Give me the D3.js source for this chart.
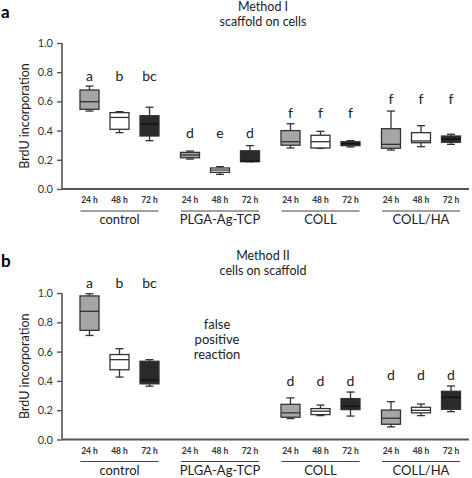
<!DOCTYPE html>
<html><head><meta charset="utf-8">
<script src="https://cdn.jsdelivr.net/npm/d3@7"></script>
<style>body{margin:0;background:#fff}svg{display:block}text{font-family:Lato,"Open Sans",sans-serif}</style>
</head><body><svg id="c" width="472" height="478"></svg>
<script>
const groups = ["control", "PLGA-Ag-TCP", "COLL", "COLL/HA"];
const times = ["24 h", "48 h", "72 h"];
const fills = ["#a6a6a6", "#ffffff", "#2a2a2a"];
const yTicks = [0, 0.2, 0.4, 0.6, 0.8, 1.0];

// Panel a: Method I
const lowA  = [0.534, 0.386, 0.331, 0.205, 0.100, 0.187, 0.281, 0.278, 0.288, 0.267, 0.290, 0.306];
const q1A   = [0.546, 0.409, 0.363, 0.214, 0.114, 0.187, 0.300, 0.281, 0.297, 0.279, 0.317, 0.320];
const medA  = [0.598, 0.490, 0.445, 0.233, 0.130, 0.190, 0.324, 0.324, 0.310, 0.306, 0.329, 0.342];
const q3A   = [0.678, 0.523, 0.502, 0.251, 0.144, 0.262, 0.400, 0.368, 0.324, 0.413, 0.386, 0.363];
const highA = [0.705, 0.530, 0.560, 0.260, 0.153, 0.297, 0.447, 0.395, 0.331, 0.534, 0.434, 0.375];
const lettersA = ["a", "b", "bc", "d", "e", "d", "f", "f", "f", "f", "f", "f"];
const letterYA = [0.774, 0.774, 0.774, 0.381, 0.381, 0.381, 0.518, 0.518, 0.518, 0.616, 0.616, 0.616];

// Panel b: Method II
const lowB  = [0.710, 0.426, 0.364, null, null, null, 0.143, 0.163, 0.160, 0.086, 0.163, 0.190];
const q1B   = [0.745, 0.476, 0.380, null, null, null, 0.152, 0.170, 0.204, 0.104, 0.182, 0.206];
const medB  = [0.875, 0.545, 0.405, null, null, null, 0.182, 0.193, 0.227, 0.145, 0.199, 0.288];
const q3B   = [0.980, 0.580, 0.534, null, null, null, 0.240, 0.211, 0.279, 0.201, 0.220, 0.329];
const highB = [0.995, 0.620, 0.545, null, null, null, 0.284, 0.235, 0.324, 0.258, 0.242, 0.365];
const lettersB = ["a", "b", "bc", "", "", "", "d", "d", "d", "d", "d", "d"];
const letterYB = [1.068, 1.068, 1.068, null, null, null, 0.397, 0.397, 0.397, 0.437, 0.437, 0.437];

const svg = d3.select("#c");
const slot = (g, t) => g * 3.35 + t;
const x = d3.scaleLinear().domain([0, 1]).range([89.5, 119.5]);
const boxW = 19, capW = 8;

function panel(cfg) {
  const y = d3.scaleLinear().domain([0, 1]).range([cfg.y0, cfg.y1]);
  const g = svg.append("g");
  g.append("text").attr("x", 1).attr("y", cfg.titleY + 7).attr("font-size", 17).attr("font-weight", "bold")
    .attr("font-family", "Liberation Sans, Arial, sans-serif").text(cfg.label);
  g.append("text").attr("x", 263).attr("y", cfg.titleY).attr("text-anchor", "middle").attr("font-size", 12.5).attr("fill", "#222").text(cfg.t1);
  g.append("text").attr("x", 263).attr("y", cfg.titleY + 15).attr("text-anchor", "middle").attr("font-size", 12.5).attr("fill", "#222").text(cfg.t2);

  const ax = g.append("g").attr("transform", "translate(62,0)")
    .call(d3.axisLeft(y).tickValues(yTicks).tickFormat(d3.format(".1f")).tickSize(5).tickPadding(4));
  ax.select(".domain").attr("stroke", "#555").attr("stroke-width", 1.6).attr("d", `M0,${cfg.y1}V${cfg.y0}`);
  ax.selectAll(".tick line").attr("stroke", "#555").attr("stroke-width", 1.4);
  ax.selectAll(".tick text").attr("font-size", 11).attr("fill", "#333").attr("font-family", "Lato, sans-serif");
  g.append("line").attr("x1", 62).attr("x2", 469).attr("y1", y(0)).attr("y2", y(0)).attr("stroke", "#555").attr("stroke-width", 1.8);
  g.append("text").attr("transform", `translate(29,${(cfg.y0 + cfg.y1) / 2}) rotate(-90)`).attr("text-anchor", "middle")
    .attr("font-size", 12.5).attr("fill", "#222").text("BrdU incorporation");

  const idx = d3.range(12);
  idx.forEach(i => {
    if (cfg.low[i] == null) return;
    const gi = Math.floor(i / 3), ti = i % 3;
    const cx = x(slot(gi, ti));
    const b = g.append("g").attr("stroke", "#333").attr("stroke-width", 1.3);
    b.append("line").attr("x1", cx).attr("x2", cx).attr("y1", y(cfg.high[i])).attr("y2", y(cfg.low[i]));
    b.append("line").attr("x1", cx - capW / 2).attr("x2", cx + capW / 2).attr("y1", y(cfg.high[i])).attr("y2", y(cfg.high[i]));
    b.append("line").attr("x1", cx - capW / 2).attr("x2", cx + capW / 2).attr("y1", y(cfg.low[i])).attr("y2", y(cfg.low[i]));
    b.append("rect").attr("x", cx - boxW / 2).attr("width", boxW).attr("y", y(cfg.q3[i]))
      .attr("height", Math.max(1, y(cfg.q1[i]) - y(cfg.q3[i]))).attr("fill", fills[ti]);
    b.append("line").attr("x1", cx - boxW / 2).attr("x2", cx + boxW / 2).attr("y1", y(cfg.med[i])).attr("y2", y(cfg.med[i]))
      .attr("stroke", ti === 2 ? "#111" : "#333");
  });
  idx.forEach(i => {
    if (!cfg.letters[i]) return;
    const gi = Math.floor(i / 3), ti = i % 3;
    g.append("text").attr("x", x(slot(gi, ti))).attr("y", y(cfg.letterY[i]) + 5).attr("text-anchor", "middle")
      .attr("font-size", 14).attr("fill", "#222").text(cfg.letters[i]);
  });
  groups.forEach((gname, gi) => {
    times.forEach((t, ti) => {
      g.append("text").attr("x", x(slot(gi, ti))).attr("y", cfg.y0 + 14).attr("text-anchor", "middle")
        .attr("font-size", 8.5).attr("font-weight", "bold").attr("fill", "#333").text(t);
    });
    const gc = x(slot(gi, 1));
    g.append("line").attr("x1", gc - 39).attr("x2", gc + 39).attr("y1", cfg.y0 + 22).attr("y2", cfg.y0 + 22)
      .attr("stroke", "#444").attr("stroke-width", 1.2);
    g.append("text").attr("x", gc).attr("y", cfg.y0 + 35).attr("text-anchor", "middle")
      .attr("font-size", 13).attr("fill", "#222").text(gname);
  });
  return y;
}

panel({label: "a", t1: "Method I", t2: "scaffold on cells", titleY: 11, y0: 189, y1: 43,
  low: lowA, q1: q1A, med: medA, q3: q3A, high: highA, letters: lettersA, letterY: letterYA});
panel({label: "b", t1: "Method II", t2: "cells on scaffold", titleY: 260, y0: 439.5, y1: 293,
  low: lowB, q1: q1B, med: medB, q3: q3B, high: highB, letters: lettersB, letterY: letterYB});

const fp = ["false", "positive", "reaction"];
svg.append("g").selectAll("text").data(fp).join("text")
  .attr("x", 217).attr("y", (d, i) => 329 + i * 15).attr("text-anchor", "middle")
  .attr("font-size", 13).attr("fill", "#222").text(d => d);
</script></body></html>
